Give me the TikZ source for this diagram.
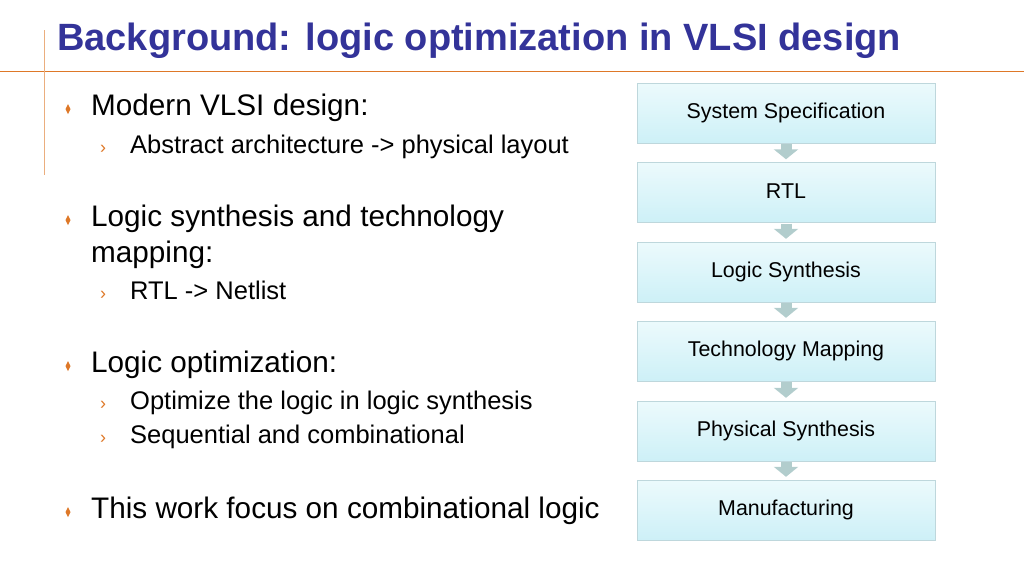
\documentclass[tikz,border=0pt]{standalone}
\usepackage{fontspec}
\setmainfont{Liberation Sans}
\usetikzlibrary{arrows.meta}
\usetikzlibrary{positioning}
\definecolor{titleblue}{RGB}{51,51,153}
\definecolor{rule}{RGB}{222,120,40}
\definecolor{boxtop}{RGB}{236,250,252}
\definecolor{boxbot}{RGB}{205,240,247}
\definecolor{boxline}{RGB}{190,215,220}
\definecolor{arrfill}{RGB}{178,205,205}
\begin{document}
\begin{tikzpicture}[x=1pt, y=-1pt, >=Triangle]
\tikzstyle{flow} = [draw=boxline, top color=boxtop, bottom color=boxbot, minimum width=298pt, minimum height=60pt, font=\fontsize{21.4}{25}\selectfont, inner sep=0pt]
\tikzstyle{flowarrow} = [-{Triangle[width=24pt,length=10pt]}, line width=11pt, draw=arrfill]
\tikzstyle{item} = [anchor=base west, inner sep=0pt, font=\fontsize{29.7}{35}\selectfont]
\tikzstyle{subitem} = [anchor=base west, inner sep=0pt, font=\fontsize{25.5}{30}\selectfont]

\useasboundingbox (0,0) rectangle (1024,576);

% title and rules
\node[anchor=base west, inner sep=0pt, text=titleblue, font=\fontsize{38}{44}\selectfont\bfseries] (title) at (57,50) {Background: logic optimization in VLSI design};
\draw[rule, line width=1pt] (0,71) -- (1024,71);
\draw[rule!60, line width=1pt] (44,30) -- (44,175);

% left text
\foreach \y in {115,226,372,518}
  \fill[rule] (68,\y-11) -- (70.5,\y-6) -- (68,\y-1) -- (65.5,\y-6) -- cycle;
\foreach \y in {153,299,409,443}
  \node[anchor=base, inner sep=0pt, text=rule, font=\fontsize{18}{20}\selectfont] at (103,\y) {›};

\node[item] (i1) at (91,115) {Modern VLSI design:};
\node[subitem] (s1) at (130,153) {Abstract architecture -> physical layout};
\node[item] (i2) at (91,226) {Logic synthesis and technology};
\node[item] (i2b) at (91,262) {mapping:};
\node[subitem] (s2) at (130,299) {RTL -> Netlist};
\node[item] (i3) at (91,372) {Logic optimization:};
\node[subitem] (s3) at (130,409) {Optimize the logic in logic synthesis};
\node[subitem] (s4) at (130,443) {Sequential and combinational};
\node[item] (i4) at (91,518) {This work focus on combinational logic};

% flow
\node[flow] (spec) at (786,113) {\raisebox{2pt}{System Specification}};
\node[flow] (rtl) at (786,192.5) {\raisebox{2pt}{RTL}};
\node[flow] (syn) at (786,272) {\raisebox{2pt}{Logic Synthesis}};
\node[flow] (map) at (786,351) {\raisebox{2pt}{Technology Mapping}};
\node[flow] (phys) at (786,431) {\raisebox{2pt}{Physical Synthesis}};
\node[flow] (manu) at (786,510) {\raisebox{2pt}{Manufacturing}};

\foreach \a/\b in {spec/rtl, rtl/syn, syn/map, map/phys, phys/manu}
  \draw[flowarrow] ([yshift=-1pt]\a.south) -- ([yshift=3pt]\b.north);
\end{tikzpicture}
\end{document}
